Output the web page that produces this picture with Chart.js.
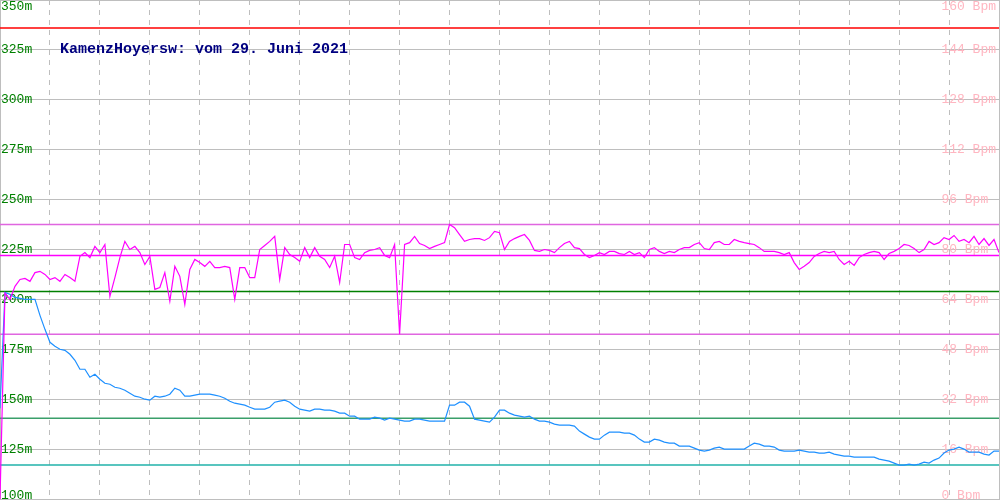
<!DOCTYPE html>
<html>
<head>
<meta charset="utf-8">
<script src="https://cdn.jsdelivr.net/npm/chart.js@4/dist/chart.umd.min.js"></script>
<style>
  body { margin: 0; background: #fff; }
  #wrap { position: relative; width: 1000px; height: 500px; }
  #title {
    position: absolute; left: 60px; top: 42px;
    font: bold 15px "Liberation Mono", "DejaVu Sans Mono", monospace;
    line-height: 15px; color: #000080; white-space: pre;
  }
</style>
</head>
<body>
<div id="wrap">
  <canvas id="myChart" width="1000" height="500"></canvas>
  <div id="title">KamenzHoyersw: vom 29. Juni 2021</div>
</div>
<script>
// heart rate (Bpm), one sample every step along the track
var heartRate = [
  0, 66, 64, 68.2, 70.4, 70.7, 69.8, 72.6, 73.0, 72.0,
  70.4, 71.0, 69.8, 72.0, 71.0, 69.8, 77.8, 79.0, 77.4, 81.0,
  79.0, 81.6, 65.0, 71.0, 77.4, 82.6, 80.0, 81.0, 79.0, 75.2,
  77.8, 67.2, 67.8, 72.6, 63.4, 74.6, 71.4, 62.4, 73.6, 76.8,
  75.8, 74.6, 76.2, 74.2, 74.2, 74.6, 74.2, 64.0, 74.2, 74.2,
  71.0, 71.0, 80.0, 81.3, 82.6, 84.2, 70.4, 80.6, 78.4, 77.4,
  76.2, 80.6, 77.4, 80.6, 77.8, 76.8, 74.2, 77.8, 69.4, 81.6,
  81.6, 77.4, 76.8, 79.0, 79.7, 80.0, 80.6, 78.1, 77.4, 81.6,
  52.8, 81.6, 82.2, 84.2, 81.9, 81.3, 80.3, 81.0, 81.6, 82.2,
  88.0, 87.0, 84.8, 82.6, 83.2, 83.5, 83.5, 82.9, 83.8, 85.8,
  85.4, 80.0, 82.6, 83.5, 84.2, 84.8, 82.9, 79.7, 79.4, 80.0,
  79.7, 79.0, 80.6, 81.9, 82.6, 80.6, 80.3, 78.4, 77.4, 78.1,
  79.0, 78.4, 79.4, 79.4, 78.7, 78.4, 79.4, 78.4, 79.0, 77.4,
  80.0, 80.6, 79.4, 78.7, 79.4, 79.0, 80.0, 80.6, 80.6, 81.6,
  82.2, 80.3, 80.0, 82.2, 82.6, 81.6, 81.6, 83.2, 82.6, 82.2,
  81.9, 81.6, 80.6, 79.4, 79.4, 79.4, 79.0, 78.4, 79.0, 75.8,
  73.6, 74.6, 75.8, 77.8, 78.7, 79.4, 79.0, 79.4, 76.8, 75.2,
  76.2, 74.9, 77.4, 78.4, 79.0, 79.4, 79.0, 76.8, 78.7, 79.4,
  80.3, 81.6, 81.3, 80.3, 79.0, 80.0, 82.6, 81.6, 82.2, 83.8,
  83.2, 84.5, 82.6, 83.2, 82.2, 84.2, 81.6, 83.5, 81.3, 83.2,
  79.0
];

// altitude (m)
var altitude = [
  145.5, 203.5, 202.5, 201, 200.5, 200, 200, 200, 192, 185,
  178.5, 176.5, 175, 174.5, 172.5, 169.5, 165, 165, 161, 162.5,
  160, 158, 157.5, 156, 155.5, 154.5, 153, 151.5, 151, 150,
  149.5, 151.5, 151, 151.5, 152.5, 155.5, 154.5, 151.5, 151.5, 152,
  152.5, 152.5, 152.5, 152, 151.5, 150.5, 149, 148, 147.5, 147,
  146, 145, 145, 145, 146, 148.5, 149, 149.5, 148.5, 146.5,
  145, 144.5, 144, 145, 145, 144.5, 144.5, 144, 143, 143,
  141.5, 141.5, 140, 140, 140, 141, 140.5, 139.5, 140.5, 140,
  139.5, 139, 139, 140, 140, 139.5, 139, 139, 139, 139,
  147, 147, 148.5, 148.5, 146.5, 140, 139.5, 139, 138.5, 141,
  144.5, 144.5, 143, 142, 141.5, 141, 141.5, 140, 139, 139,
  138.5, 137.5, 137, 137, 137, 136.5, 134, 132.5, 131, 130,
  130, 132, 133.5, 133.5, 133.5, 133, 133, 132, 130, 128.5,
  128.5, 130, 129.5, 128.5, 128, 128, 126.5, 126.5, 126.5, 125.5,
  124.5, 124, 124.5, 125.5, 126, 125, 125, 125, 125, 125,
  126.5, 128, 127.5, 126.5, 126.5, 126, 124.5, 124, 124, 124,
  124.5, 124, 123.5, 123.5, 123, 123, 123.5, 122.5, 122, 121.5,
  121.5, 121, 121, 121, 121, 121, 120, 119.5, 119, 118,
  117, 117, 117.5, 117, 117.5, 118.5, 118, 119.5, 120.5, 123,
  124.5, 125, 126, 125, 123.5, 123.5, 123.5, 122.5, 122, 124,
  124
];

// reference lines
var altMax = 204, altAvg = 140.5, altMin = 117;
var hrMax = 88, hrAvg = 78.1, hrMin = 52.8, hrLimit = 151;

var samples = heartRate.map(function(v, i) { return i; });
var last = samples.length - 1;

function flat(v) {
  return [{x: 0, y: v}, {x: last, y: v}];
}

function refLine(v, color, axis) {
  return {
    data: flat(v), yAxisID: axis, borderColor: color, borderWidth: 1.5,
    pointRadius: 0, order: 2
  };
}

// first and last tick labels are pushed inside the canvas
var edgeLabels = {
  id: 'edgeLabels',
  beforeDraw: function(chart) {
    ['y', 'y1'].forEach(function(id) {
      var scale = chart.scales[id];
      scale.getLabelItems().forEach(function(item) {
        var y = item.options.translation[1];
        if (y <= chart.chartArea.top + 1) item.options.textBaseline = 'top';
        if (y >= chart.chartArea.bottom - 1) item.options.textBaseline = 'alphabetic';
      });
    });
  }
};

// axes take no room: labels sit inside the plot, no half-label margins
function noPad(scale) {
  scale.paddingTop = 0;
  scale.paddingBottom = 0;
  scale.paddingLeft = 0;
  scale.paddingRight = 0;
  if (!scale.isHorizontal()) scale.width = 0;
}

var gridGray = '#bebebe';
var tickFont = { family: '"Liberation Mono", "DejaVu Sans Mono", monospace', size: 13 };

var ctx = document.getElementById('myChart').getContext('2d');
var chart = new Chart(ctx, {
  type: 'line',
  data: {
    labels: samples,
    datasets: [
      refLine(hrLimit, '#ff0000', 'y1'),
      refLine(altMax, '#008000', 'y'),
      refLine(altAvg, '#3a9f6a', 'y'),
      refLine(altMin, '#20b2aa', 'y'),
      refLine(hrMax, '#e066e0', 'y1'),
      refLine(hrAvg, '#ff00ff', 'y1'),
      refLine(hrMin, '#e066e0', 'y1'),
      {
        data: altitude, yAxisID: 'y', borderColor: '#1e90ff', borderWidth: 1.2,
        pointRadius: 0, order: 1
      },
      {
        data: heartRate, yAxisID: 'y1', borderColor: '#ff00ff', borderWidth: 1.2,
        pointRadius: 0, order: 0
      }
    ]
  },
  options: {
    responsive: false,
    animation: false,
    devicePixelRatio: 1,
    layout: { padding: { right: 1, bottom: 1 } },
    plugins: { legend: { display: false }, tooltip: { enabled: false } },
    elements: { line: { tension: 0 } },
    scales: {
      x: {
        type: 'linear', min: 0, max: last,
        afterFit: noPad,
        ticks: { display: false, stepSize: 10 },
        grid: { color: gridGray, drawTicks: false },
        border: { display: false, dash: [5, 5] }
      },
      y: {
        position: 'left', min: 100, max: 350,
        afterFit: noPad,
        ticks: {
          stepSize: 25, mirror: true, padding: 1, crossAlign: 'near',
          color: '#008000', font: tickFont,
          callback: function(v) { return v + 'm'; }
        },
        grid: { color: gridGray, drawTicks: false },
        border: { display: true, color: gridGray }
      },
      y1: {
        position: 'right', min: 0, max: 160,
        afterFit: noPad,
        ticks: {
          stepSize: 16, mirror: true, padding: -3, crossAlign: 'far',
          color: '#ffb6c1', font: tickFont,
          callback: function(v) { return v + ' Bpm'; }
        },
        grid: { drawOnChartArea: false, drawTicks: false },
        border: { display: true, color: gridGray }
      }
    }
  },
  plugins: [edgeLabels]
});
</script>
</body>
</html>
